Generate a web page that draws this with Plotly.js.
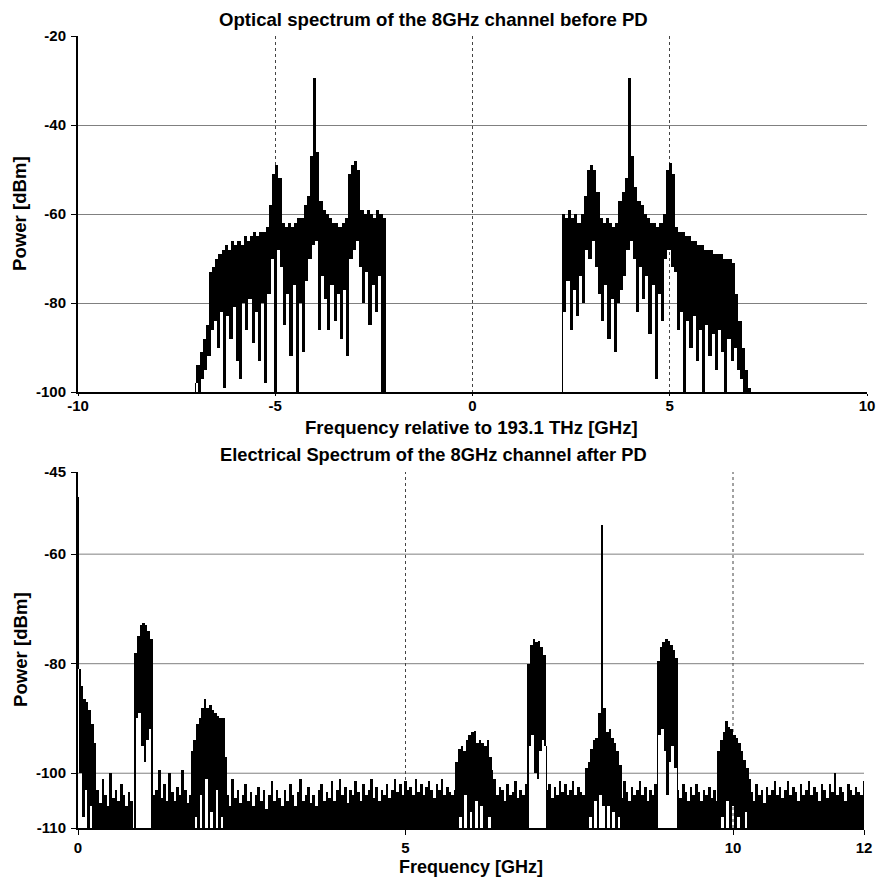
<!DOCTYPE html>
<html>
<head>
<meta charset="utf-8">
<script src="https://cdn.plot.ly/plotly-3.0.1.min.js"></script>
<style>html,body{margin:0;padding:0;background:#fff}#chart{width:877px;height:878px}</style>
</head>
<body>
<div id="chart"></div>
<script>
// ---------------- Optical spectrum (top) ----------------
// samples every 0.04 GHz, alternating local maxima / minima of the dense trace
const OPT_DX = 0.04;
const optLeftStart = -7.04;
const optLeft = [
 -100,-98,-94,-100,-91,-97,-88,-95,-85,-92,
 -73,-86,-72,-84,-70,-90,-69,-82,-68,-99,
 -67,-83,-68,-88,-66,-81,-67,-93,-66,-97,
 -67,-80,-65,-86,-66,-79,-65,-89,-64,-82,
 -65,-93,-64,-80,-64,-98,-63,-78,-58,-70,
 -51,-100,-49,-68,-52,-72,-62,-85,-63,-78,
 -62,-92,-63,-76,-62,-100,-61,-80,-61,-91,
 -58,-75,-56,-70,-47,-67,-29.5,-66,-46,-86,
 -57,-74,-59,-79,-60,-86,-61,-76,-62,-84,
 -62,-78,-63,-88,-62,-77,-61,-92,-51,-70,
 -49,-68,-48,-66,-50,-72,-59,-80,-60,-73,
 -59,-85,-60,-76,-61,-82,-59,-74,-60,-100,
 -61,-100];
const optRightStart = 2.26;
const optRight = [
 -100,-60,-82,-61,-75,-59,-86,-61,-77,-60,
 -83,-62,-74,-60,-80,-56,-68,-50,-70,-49,
 -66,-50,-72,-55,-78,-61,-84,-62,-76,-61,
 -88,-62,-79,-63,-91,-62,-80,-57,-77,-55,
 -74,-52,-68,-29.5,-66,-47,-70,-54,-82,-57,
 -72,-58,-79,-60,-74,-61,-87,-62,-76,-62,
 -97,-63,-78,-62,-84,-60,-70,-50,-68,-48.5,
 -72,-51,-73,-63,-86,-64,-82,-64,-100,-65,
 -84,-65,-90,-66,-83,-66,-93,-67,-86,-67,
 -100,-68,-85,-68,-92,-68,-87,-69,-95,-69,
 -86,-69,-91,-70,-100,-70,-88,-70,-93,-71,
 -90,-78,-95,-84,-97,-90,-100,-95,-100,-99,
 -100];

// ---------------- Electrical spectrum (bottom) ----------------
// signal bands: samples every 0.02 GHz (alternating max / min)
const BAND_DX = 0.02;
const bandStarts = [0.00, 0.86, 1.72, 5.76, 6.86, 7.74, 8.84, 9.76];
const bandDC = [-49.5,-81,-100,-84,-108,-86.5,-103,-87,-110,-88.5,-106,-91,-110,-94.5,-110,-103];
const band1GHz = [-110,-78,-90,-75,-89,-73,-95,-72.5,-98,-73,-94,-74,-92,-75.5,-110];
const band2GHz = [-110,-96,-110,-94,-108,-91,-110,-90,-104,-88,-110,-86.5,-101,-88,-110,-87.5,-107,-88.5,-110,-89,-103,-89.5,-110,-90,-108,-90,-110,-97,-110];
const band6GHz = [-110,-98,-110,-95.5,-108,-95,-110,-96,-104,-94,-110,-93,-107,-92.5,-110,-92.3,-105,-94.5,-110,-94,-106,-94.5,-110,-95,-110,-94,-108,-97,-110,-99.5];
const band7GHz = [-110,-80,-95,-76.5,-93,-75.5,-100,-76,-101,-75.8,-96,-77,-94,-78.5,-95,-110];
const band8GHz = [-110,-99,-110,-98,-108,-95.5,-110,-94,-105,-93.5,-110,-89,-104,-54.7,-106,-88,-110,-92.5,-106,-92,-110,-93.5,-107,-94.5,-110,-96,-108,-98.5,-110];
const band9GHz = [-110,-79.5,-93,-77,-92,-76,-96,-75.5,-104,-75.8,-98,-76.5,-95,-77.5,-99,-79,-110];
const band10GHz = [-110,-96,-110,-94,-108,-92.5,-110,-90.5,-105,-91.5,-110,-92,-106,-93,-110,-93.5,-108,-94.5,-110,-96,-110,-97.5,-107,-99,-110,-101,-110];

// noise floor: top of the trace every 0.04 GHz
const FLOOR_DX = 0.04;
const floorStarts = [0.30, 1.16, 2.28, 6.36, 7.16, 8.30, 9.16, 10.28];
const floorA = [-103,-105.5,-101,-104,-106,-100,-104.5,-103,-105,-102,-104,-106,-103.5,-105];
const floorB = [-104,-103,-99.5,-104.5,-102,-105,-100,-103.5,-105,-102.5,-104,-99.5,-103,-105.5,-104];
const floorC = [
 -104,-106,-101,-104.5,-103,-105.5,-104,-102,-105,-103.5,-106,
 -104,-102.5,-105,-103,-106.5,-104,-101.5,-105,-103,-104.5,-106,
 -103,-105,-102,-104,-106,-103.5,-101,-105,-104,-102.5,-105.5,
 -104,-106,-103,-102,-105,-103.5,-104.5,-101.5,-105,-103,-101,
 -104,-102.5,-105.5,-103,-104,-101.5,-103.5,-105,-102,-104,-103,
 -101,-104.5,-102.5,-105,-103,-104,-102,-104.5,-103,-101,-103.5,
 -102,-104,-101.5,-103,-102.5,-104,-101,-103.5,-102,-104,-102.5,
 -101.5,-103,-104.5,-102,-103,-101,-104,-102.5,-103.5,-104,-103];
const floorD = [-101,-104,-102.5,-103,-105,-102,-104,-103.5,-101.5,-104.5,-103,-104,-102];
const floorE = [-103,-102,-104.5,-102.5,-104,-101.5,-103.5,-102,-104,-103,-101.5,-104,-102.5,-103.5,-104];
const floorF = [-104.5,-101.5,-103.5,-105,-102.5,-104,-103,-101.5,-104,-102.5,-105,-103,-104,-102];
const floorG = [-103,-104.5,-102,-103.5,-105,-102.5,-104,-102,-103.5,-105,-103,-104,-102.5,-104.5,-103,-105];
const floorH = [
 -103.5,-105,-102,-104,-103,-105.5,-102.5,-104,-103,-101.5,-104,
 -102.5,-104.5,-103,-101.5,-104,-102.5,-103.5,-105,-102,-104,-103,
 -101.5,-104,-102.5,-103.5,-105,-102,-103,-104.5,-102,-103.5,-100,
 -104,-102.5,-103.5,-105,-102,-103,-104,-102.5,-103.5,-104,-101.5];

// axes / ticks
const topXTicks = [-10, -5, 0, 5, 10];
const topYTicks = [-100, -80, -60, -40, -20];
const botXTicks = [0, 5, 10, 12];
const botYTicks = [-110, -100, -80, -60, -45];
const botHGrid = [-100, -80, -60];
const botVGrid = [5, 10];
const TOP_RANGE_X = [-10, 10], TOP_RANGE_Y = [-100, -20];
const BOT_RANGE_X = [0, 12], BOT_RANGE_Y = [-110, -45];

// ---------------- build traces ----------------
// a dense min/max trace: each step between consecutive samples becomes a filled column
function traceColumns(x0, dx, vals, xa, ya) {
  const base = [], height = [];
  for (let k = 0; k < vals.length - 1; k++) {
    const lo = Math.min(vals[k], vals[k + 1]), hi = Math.max(vals[k], vals[k + 1]);
    base.push(lo);
    height.push(Math.max(hi - lo, 0.3));
  }
  return {type: 'bar', x0: x0, dx: dx, y: height, base: base, width: dx, offset: 0,
          xaxis: xa, yaxis: ya, marker: {color: '#000', line: {width: 0}}, hoverinfo: 'skip'};
}
function floorTrace(x0, y) {
  const base = BOT_RANGE_Y[0];
  return {type: 'bar', x0: x0, dx: FLOOR_DX, y: y.map(v => v - base), base: base,
          width: FLOOR_DX, xaxis: 'x2', yaxis: 'y2',
          marker: {color: '#000', line: {width: 0}}, hoverinfo: 'skip'};
}
const traces = [];
[floorA, floorB, floorC, floorD, floorE, floorF, floorG, floorH].forEach((f, k) => traces.push(floorTrace(floorStarts[k], f)));
[bandDC, band1GHz, band2GHz, band6GHz, band7GHz, band8GHz, band9GHz, band10GHz].forEach((b, k) => traces.push(traceColumns(bandStarts[k], BAND_DX, b, 'x2', 'y2')));
traces.push(traceColumns(optLeftStart, OPT_DX, optLeft, 'x', 'y'));
traces.push(traceColumns(optRightStart, OPT_DX, optRight, 'x', 'y'));

const FONT = 'Liberation Sans, Arial, Helvetica, sans-serif';
const tickFont = {family: FONT, size: 15, color: '#000', weight: 'bold'};
const axisCommon = {showline: true, linecolor: '#000', linewidth: 2, zeroline: false,
  ticks: 'outside', tickcolor: '#000', tickwidth: 1, tickfont: tickFont, fixedrange: true, mirror: false};
const W = 877, H = 878;
const px = v => v / W, py = v => 1 - v / H;

const shapes = [];
botHGrid.forEach(v => shapes.push({type: 'line', layer: 'below', xref: 'x2 domain', yref: 'y2', x0: 0, x1: 1, y0: v, y1: v, line: {color: '#808080', width: 1}}));
botVGrid.forEach(v => shapes.push({type: 'line', layer: 'below', xref: 'x2', yref: 'y2 domain', x0: v, x1: v, y0: 0, y1: 1, line: {color: '#444', width: 1, dash: 'dot'}}));

function ann(text, x, y, size, angle) {
  return {text: text, xref: 'paper', yref: 'paper', x: x, y: y, xanchor: 'center', yanchor: 'middle',
          showarrow: false, textangle: angle || 0, font: {family: FONT, size: size, color: '#000', weight: 'bold'}};
}

const layout = {
  width: W, height: H, margin: {l: 0, r: 0, t: 0, b: 0},
  paper_bgcolor: '#fff', plot_bgcolor: '#fff', showlegend: false,
  barmode: 'overlay', bargap: 0, hovermode: false,
  font: {family: FONT, color: '#000'},
  xaxis: Object.assign({}, axisCommon, {domain: [px(78), px(867)], range: TOP_RANGE_X, anchor: 'y',
    tickmode: 'array', tickvals: topXTicks, ticktext: topXTicks.map(String), ticklen: 2, ticklabelstandoff: -3,
    showgrid: true, gridcolor: '#444', gridwidth: 1, griddash: 'dot'}),
  yaxis: Object.assign({}, axisCommon, {domain: [py(392), py(36)], range: TOP_RANGE_Y, anchor: 'x',
    tickmode: 'array', tickvals: topYTicks, ticktext: topYTicks.map(String), ticklen: 5, ticklabelstandoff: 2,
    showgrid: true, gridcolor: '#808080', gridwidth: 1}),
  xaxis2: Object.assign({}, axisCommon, {domain: [px(78), px(864)], range: BOT_RANGE_X, anchor: 'y2',
    tickmode: 'array', tickvals: botXTicks, ticktext: botXTicks.map(String), ticklen: 5,
    showgrid: false}),
  yaxis2: Object.assign({}, axisCommon, {domain: [py(828), py(472)], range: BOT_RANGE_Y, anchor: 'x2',
    tickmode: 'array', tickvals: botYTicks, ticktext: botYTicks.map(String), ticklen: 5, ticklabelstandoff: 2,
    showgrid: false}),
  shapes: shapes,
  annotations: [
    ann('Optical spectrum of the 8GHz channel before PD', px(433), py(19), 18.6),
    ann('Frequency relative to 193.1 THz [GHz]', px(471), py(428), 18.6),
    ann('Electrical Spectrum of the 8GHz channel after PD', px(433), py(454), 18.3),
    ann('Frequency [GHz]', px(471), py(867), 18),
    ann('Power [dBm]', px(20), py(214), 18.6, -90),
    ann('Power [dBm]', px(20), py(650), 18.6, -90)
  ]
};

Plotly.newPlot('chart', traces, layout, {staticPlot: true, displayModeBar: false});
</script>
</body>
</html>
